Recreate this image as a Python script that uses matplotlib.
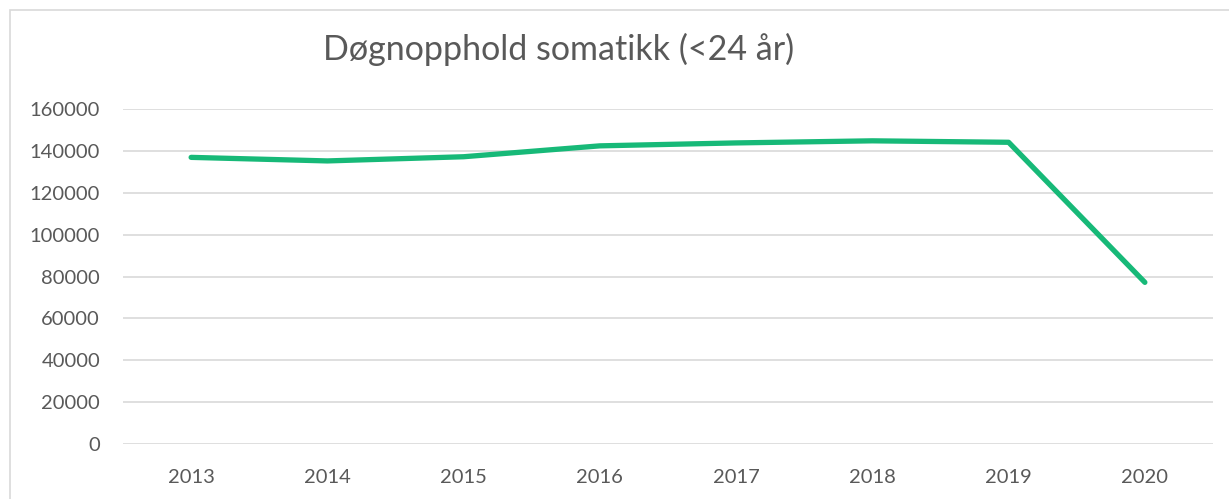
import matplotlib.pyplot as plt
from matplotlib.patches import Rectangle

years = ["2013", "2014", "2015", "2016", "2017", "2018", "2019", "2020"]
stays = [136900, 135200, 137200, 142400, 143800, 144800, 144100, 77200]
yticks = [0, 20000, 40000, 60000, 80000, 100000, 120000, 140000, 160000]

W, H = 1229, 499
fig = plt.figure(figsize=(W / 100, H / 100), dpi=100)
plt.rcParams['font.family'] = ['Lato', 'DejaVu Sans']

# chart frame, open to the right and bottom
fig.patches.append(Rectangle((10 / W, -0.1), 1.2, 1.1 - 10 / H,
                             transform=fig.transFigure, fill=False,
                             edgecolor='#d9d9d9', linewidth=1.2))

ax = fig.add_axes([123 / W, 1 - 444 / H, (1213 - 123) / W, (444 - 109) / H])
x = list(range(len(years)))
ax.plot(x, stays, color='#17b978', linewidth=3.8, solid_capstyle='round',
        solid_joinstyle='round', clip_on=False, zorder=3)

ax.set_xlim(-0.5, len(years) - 0.5)
ax.set_ylim(0, 160000)
ax.set_yticks(yticks)
ax.set_yticklabels([str(v) for v in yticks])
ax.set_xticks(x)
ax.set_xticklabels(years)
ax.grid(axis='y', color='#d9d9d9', linewidth=1.2)
ax.set_axisbelow(True)
for s in ax.spines.values():
    s.set_visible(False)
ax.tick_params(length=0, labelsize=14.5, colors='#595959')
ax.tick_params(axis='x', pad=18)
ax.tick_params(axis='y', pad=16.5)

fig.text(559 / W, 1 - 60 / H, "Døgnopphold somatikk (<24 år)", ha='center',
         va='baseline', fontsize=24.5, color='#595959')

fig.savefig("out.png", dpi=100)
